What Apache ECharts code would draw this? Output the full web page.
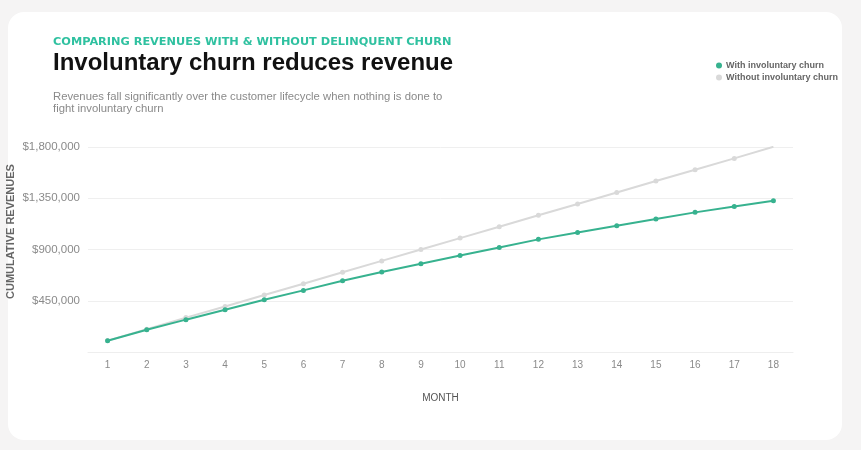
<!DOCTYPE html>
<html>
<head>
<meta charset="utf-8">
<title>Involuntary churn reduces revenue</title>
<script src="https://cdn.jsdelivr.net/npm/echarts@6/dist/echarts.min.js"></script>
<style>
	html,body{margin:0;padding:0;background:#f5f4f4;}
	#line_main{width:861px;height:450px;}
</style>
</head>
<body>
<div id="line_main"></div>
<script>
var months=['1','2','3','4','5','6','7','8','9','10','11','12','13','14','15','16','17','18'];
var with_churn=[99000,196000,284000,371000,459000,541000,626000,702000,775000,848000,918000,989000,1050000,1109000,1168000,1226000,1278000,1328000];
var without_churn=[100000,200000,302000,400000,500000,600000,700000,800000,900000,1000000,1100000,1200000,1300000,1400000,1502000,1600000,1700000,1802000];
var line_name=['With involuntary churn','Without involuntary churn'];
var line_color=['#37b28f','#d9d9d9'];
var y_ticks=[0,450000,900000,1350000,1800000];

function money(v){
	if(v===0) return '';
	return '$'+v.toLocaleString('en-US');
}
function echarts_line(names,x_positions,y_positions){
	var myChart=echarts.init(document.getElementById('line_main'));
	var font='Liberation Sans';
	var option={
		backgroundColor:'transparent',
		textStyle:{fontFamily:font},
		graphic:[{
			type:'rect',
			z:-10,
			shape:{x:8,y:12,width:834,height:428,r:16},
			style:{fill:'#ffffff'}
		}],
		title:[
		{
			text:'COMPARING REVENUES WITH & WITHOUT DELINQUENT CHURN',
			left:48,top:32,
			textStyle:{fontSize:11.3,fontWeight:'bold',color:'#2fc1a0',fontFamily:'DejaVu Sans'}
		},
		{
			text:'Involuntary churn reduces revenue',
			left:48,top:46,
			textStyle:{fontSize:24,fontWeight:'bold',color:'#111111',fontFamily:font}
		},
		{
			text:'Revenues fall significantly over the customer lifecycle when nothing is done to\nfight involuntary churn',
			left:48,top:86,
			textStyle:{fontSize:11.3,fontWeight:'normal',color:'#8a8a8a',lineHeight:12,fontFamily:font}
		}],
		legend:{
			orient:'vertical',
			left:711,top:56,
			itemWidth:6,itemHeight:6,itemGap:3,
			icon:'circle',
			textStyle:{fontSize:9,fontWeight:'bold',color:'#666666',padding:[0,0,0,-1]},
			data:[]
		},
		grid:{left:88,right:68,top:147,bottom:98,outerBoundsMode:'none',containLabel:false},
		xAxis:[
		{
			type:'category',
			data:x_positions,
			name:'MONTH',
			nameLocation:'middle',
			nameGap:41,
			nameMoveOverlap:false,
			nameTextStyle:{fontSize:10,color:'#555555'},
			axisLine:{lineStyle:{color:'#eeeeee'}},
			axisTick:{show:false},
			axisLabel:{color:'#8a8a8a',fontSize:10,margin:8}
		}],
		yAxis:[
		{
			type:'value',
			min:y_ticks[0],
			max:y_ticks[y_ticks.length-1],
			interval:y_ticks[1]-y_ticks[0],
			name:'CUMULATIVE REVENUES',
			nameLocation:'middle',
			nameGap:72,
			nameMoveOverlap:false,
			nameTextStyle:{fontSize:11,fontWeight:'bold',color:'#666666',padding:[0,0,0,36]},
			axisLine:{show:false},
			axisTick:{show:false},
			axisLabel:{color:'#8a8a8a',fontSize:11.5,margin:8,formatter:money},
			splitLine:{lineStyle:{color:'#efefef'}}
		}],
		series:[]
	};
	// draw the grey one first so the green line sits on top
	for(var i=names.length-1;i>=0;i--){
		option.series.push({
			name:names[i],
			type:'line',
			data:y_positions[i],
			symbol:'circle',
			symbolSize:5,
			z:10-i,
			itemStyle:{color:line_color[i]},
			lineStyle:{color:line_color[i],width:2}
		});
	}
	for(var j=0;j<names.length;j++)
		option.legend.data.push(names[j]);
	myChart.setOption(option);
}

echarts_line(line_name,months,[with_churn,without_churn]);
</script>
</body>
</html>
